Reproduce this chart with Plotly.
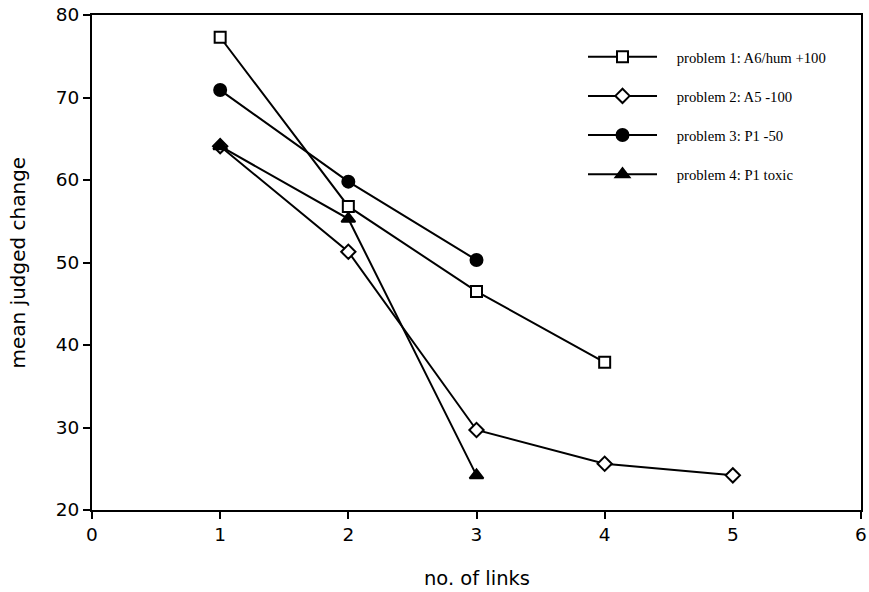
import plotly.graph_objects as go

x_p1 = [1, 2, 3, 4]
y_p1 = [77.3, 56.8, 46.5, 37.9]
x_p2 = [1, 2, 3, 4, 5]
y_p2 = [64.1, 51.3, 29.7, 25.6, 24.2]
x_p3 = [1, 2, 3]
y_p3 = [70.9, 59.8, 50.3]
x_p4 = [1, 2, 3]
y_p4 = [64.1, 55.3, 24.2]

names = ["problem 1: A6/hum +100", "problem 2: A5 -100", "problem 3: P1 -50", "problem 4: P1 toxic"]

fig = go.Figure()
series = [
    (x_p1, y_p1, "square", "white", 11),
    (x_p2, y_p2, "diamond", "white", 11),
    (x_p3, y_p3, "circle", "black", 12),
    (x_p4, y_p4, "triangle-up", "black", 12),
]
pad = "\u00a0" * 4
for i, (xs, ys, sym, fill, sz) in enumerate(series):
    fig.add_trace(go.Scatter(
        x=xs, y=ys, mode="lines+markers", name=pad + names[i], legendgroup=f"g{i}",
        line=dict(color="black", width=2),
        marker=dict(symbol=sym, size=sz, color=fill, line=dict(color="black", width=2)),
    ))

axis_common = dict(
    showline=True, linecolor="black", linewidth=2, mirror=True,
    ticks="outside", ticklen=7, tickwidth=2, tickcolor="black",
    showgrid=False, zeroline=False, automargin=False,
    tickfont=dict(family="DejaVu Sans", size=18.5, color="black"),
)
fig.update_xaxes(range=[0, 6], dtick=1, tick0=0, **axis_common)
fig.update_yaxes(range=[20, 80], dtick=10, tick0=20, **axis_common)

fig.add_annotation(
    text="no. of links",
    xref="paper", yref="paper", x=0.5, y=0, xanchor="center", yanchor="middle",
    yshift=-68, showarrow=False,
    font=dict(family="DejaVu Sans", size=19.5, color="black"),
)
fig.add_annotation(
    text="mean judged change", textangle=-90,
    xref="paper", yref="paper", x=0, y=0.5, xanchor="center", yanchor="middle",
    xshift=-75, showarrow=False,
    font=dict(family="DejaVu Sans", size=20, color="black"),
)

fig.update_layout(
    width=869, height=592,
    margin=dict(l=92, r=8, t=15, b=82),
    paper_bgcolor="white", plot_bgcolor="white",
    showlegend=True,
    legend=dict(
        x=0.6385, y=0.948, xanchor="left", yanchor="top",
        font=dict(family="Liberation Serif", size=14.7, color="black"),
        itemwidth=69, tracegroupgap=17, bgcolor="rgba(0,0,0,0)",
    ),
)

fig.write_html("out.html")
